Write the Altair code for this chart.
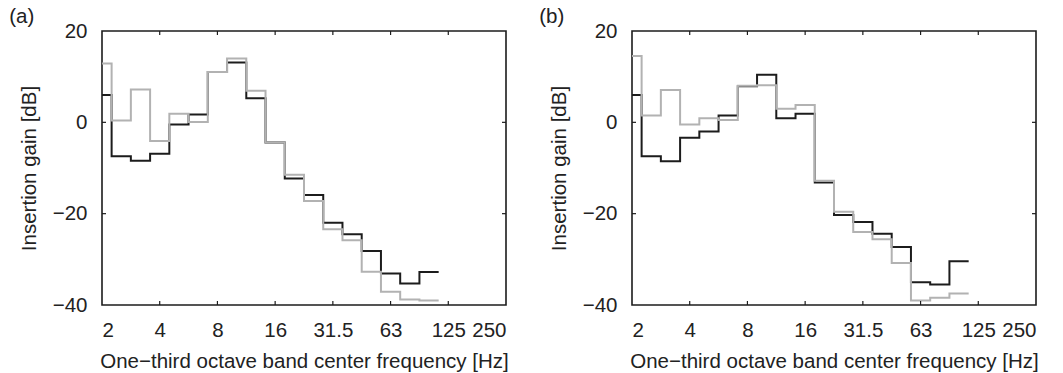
import json
import altair as alt
import pandas as pd

# One-third octave band centres (Hz) drawn in each panel (2 Hz ... 100 Hz)
bands = ["2", "2.5", "3.15", "4", "5", "6.3", "8", "10", "12.5", "16",
         "20", "25", "31.5", "40", "50", "63", "80", "100"]

# Axis tick labels (every third band, 2 Hz ... 250 Hz)
x_tick_labels = ["2", "4", "8", "16", "31.5", "63", "125", "250"]
y_ticks = [-40, -20, 0, 20]

# Panel (a) insertion gain [dB]
a_black = [6.0, -7.4, -8.4, -6.9, -0.5, 1.7, 11.0, 13.1, 5.3, -4.4,
           -12.3, -15.9, -22.0, -24.5, -28.2, -33.1, -35.3, -32.8]
a_gray = [12.9, 0.4, 7.2, -4.1, 1.9, 0.1, 11.0, 14.0, 6.9, -4.4,
          -11.5, -17.2, -23.4, -25.8, -32.7, -37.1, -38.8, -39.0]

# Panel (b) insertion gain [dB]
b_black = [6.0, -7.4, -8.5, -3.4, -2.0, 1.5, 7.9, 10.4, 0.9, 1.9,
           -13.2, -20.3, -21.8, -24.4, -27.3, -35.0, -35.5, -30.4]
b_gray = [14.5, 1.5, 7.1, -0.5, 0.9, 0.5, 8.0, 8.1, 3.0, 3.8,
          -12.8, -19.6, -24.0, -25.6, -30.8, -39.0, -38.4, -37.5]

W, H = 404, 274
FONT = "Liberation Sans"
FS = 20.5
BLACK = "#1c1c1c"
GRAY = "#b2b2b2"
N_AXIS = 3 * (len(x_tick_labels) - 1)  # band-index span of the axis


def steps(values):
    """Step outline: each band value spans its band edges (index k-0.5 .. k+0.5)."""
    rows = []
    for k, v in enumerate(values):
        rows.append({"i": max(k - 0.5, 0.0), "v": v})
    rows.append({"i": len(values) - 0.5, "v": values[-1]})
    return pd.DataFrame(rows)


label_expr = json.dumps(x_tick_labels) + "[round(datum.value / 3)]"
x_scale = alt.Scale(domain=[0, N_AXIS], nice=False, zero=False)
y_scale = alt.Scale(domain=[-40, 20], nice=False)

x_axis = alt.Axis(
    values=[3 * j for j in range(len(x_tick_labels))],
    labelExpr=label_expr,
    title="One\u2212third octave band center frequency [Hz]",
    ticks=False, domain=False, grid=False,
    labelPadding=15, titlePadding=11,
    labelFontSize=FS, titleFontSize=FS,
    labelFont=FONT, titleFont=FONT,
    labelColor="#222", titleColor="#222",
    titleFontWeight="normal",
)
y_axis = alt.Axis(
    values=y_ticks,
    title="Insertion gain [dB]",
    ticks=False, domain=False, grid=False,
    labelPadding=15, titlePadding=13,
    labelFontSize=FS, titleFontSize=FS,
    labelFont=FONT, titleFont=FONT,
    labelColor="#222", titleColor="#222",
    titleFontWeight="normal",
)


def panel(black, gray, tag):
    base_black = alt.Chart(steps(black)).mark_line(
        interpolate="step-after", color=BLACK, strokeWidth=2
    ).encode(
        x=alt.X("i:Q", scale=x_scale, axis=x_axis),
        y=alt.Y("v:Q", scale=y_scale, axis=y_axis),
    )
    base_gray = alt.Chart(steps(gray)).mark_line(
        interpolate="step-after", color=GRAY, strokeWidth=2
    ).encode(
        x=alt.X("i:Q", scale=x_scale, axis=x_axis),
        y=alt.Y("v:Q", scale=y_scale, axis=y_axis),
    )
    xt = pd.DataFrame({"i": [3 * j for j in range(1, len(x_tick_labels) - 1)]})
    yt = pd.DataFrame({"v": y_ticks[1:-1]})
    tick_bottom = alt.Chart(xt).mark_rule(color=BLACK, strokeWidth=1.2).encode(
        x=alt.X("i:Q", scale=x_scale, axis=x_axis), y=alt.value(H), y2=alt.value(H - 4))
    tick_top = alt.Chart(xt).mark_rule(color=BLACK, strokeWidth=1.2).encode(
        x=alt.X("i:Q", scale=x_scale, axis=x_axis), y=alt.value(0), y2=alt.value(4))
    tick_left = alt.Chart(yt).mark_rule(color=BLACK, strokeWidth=1.2).encode(
        y=alt.Y("v:Q", scale=y_scale, axis=y_axis), x=alt.value(0), x2=alt.value(4))
    tick_right = alt.Chart(yt).mark_rule(color=BLACK, strokeWidth=1.2).encode(
        y=alt.Y("v:Q", scale=y_scale, axis=y_axis), x=alt.value(W), x2=alt.value(W - 4))
    return alt.layer(
        base_black, base_gray, tick_bottom, tick_top, tick_left, tick_right
    ).properties(
        width=W, height=H,
        title=alt.TitleParams(
            tag, anchor="start", frame="bounds", fontSize=FS,
            fontWeight="normal", font=FONT, color="#222", dx=-10, offset=-6,
        ),
    )


chart = alt.hconcat(
    panel(a_black, a_gray, "(a)"),
    panel(b_black, b_gray, "(b)"),
    spacing=28,
).configure_view(
    stroke=BLACK, strokeWidth=1.6
).properties(
    padding={"left": 8, "top": 5, "right": 5, "bottom": 0}, background="white"
)

chart.save("out.html", embed_options={"renderer": "svg", "actions": False})
